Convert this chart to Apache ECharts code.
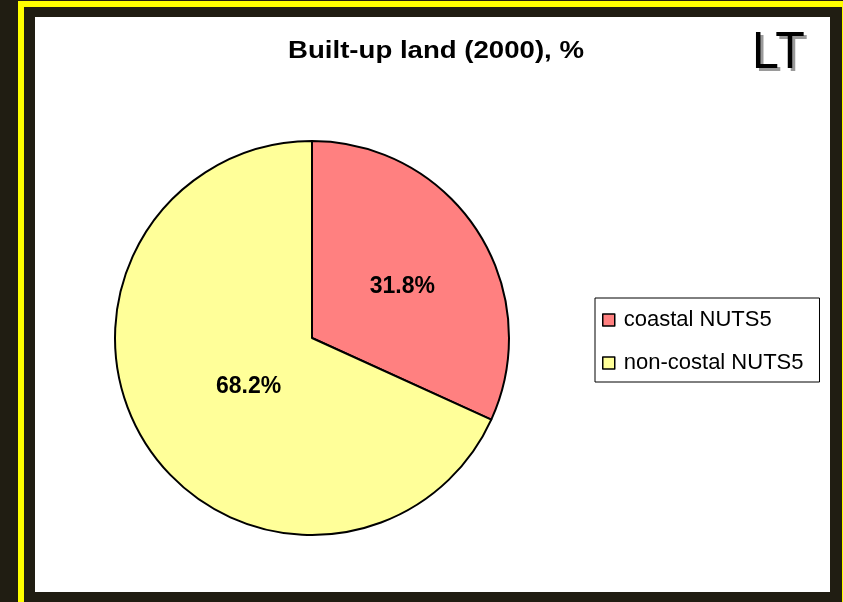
<!DOCTYPE html>
<html lang="en">
<head>
    <meta charset="UTF-8">
    <title>Built-up land (2000), % - LT</title>
    <script src="https://cdn.jsdelivr.net/npm/echarts@6/dist/echarts.min.js"></script>
    <style>
        html, body { margin: 0; padding: 0; background: #201d12; }
        #render-target { width: 843px; height: 602px; }
    </style>
</head>
<body>
    <div id="render-target"></div>
    <script>
        const categories = ["coastal NUTS5", "non-costal NUTS5"]
        const shares = [31.8, 68.2]
        const colors = ["#ff8080", "#ffff99"]
        const titleText = "Built-up land (2000), %"
        const countryCode = "LT"

        const chart = echarts.init(document.querySelector("#render-target"), null, { renderer: "canvas" })

        const codeFont = "52px 'Liberation Sans', Arial, sans-serif"

        const option = {
            animation: false,
            backgroundColor: "#201d12",
            graphic: [
                // yellow frame
                {
                    type: "rect", z: 0, silent: true,
                    shape: { x: 21, y: 4, width: 824, height: 601 },
                    style: { fill: null, stroke: "#ffff00", lineWidth: 6 }
                },
                // white plot area
                {
                    type: "rect", z: 1, silent: true,
                    shape: { x: 35, y: 17, width: 795, height: 575 },
                    style: { fill: "#ffffff" }
                },
                // title, drawn a bit wide like the source
                {
                    type: "text", z: 5, x: 436, y: 52, scaleX: 1.2,
                    style: {
                        text: titleText, x: 0, y: 0,
                        fill: "#000", font: "bold 23px 'Liberation Sans', Arial, sans-serif",
                        textAlign: "center", textVerticalAlign: "middle"
                    }
                },
                // country code with a grey drop shadow
                {
                    type: "text", z: 4, x: 755, y: 57, scaleX: 0.93,
                    style: {
                        text: countryCode, x: 0, y: 0, fill: "#9a9a9a", font: codeFont,
                        textAlign: "left", textVerticalAlign: "middle"
                    }
                },
                {
                    type: "text", z: 5, x: 752, y: 54, scaleX: 0.93,
                    style: {
                        text: countryCode, x: 0, y: 0, fill: "#000", font: codeFont,
                        textAlign: "left", textVerticalAlign: "middle"
                    }
                }
            ],
            legend: {
                orient: "vertical",
                left: 595,
                top: 298,
                z: 6,
                backgroundColor: "#ffffff",
                borderColor: "#000000",
                borderWidth: 1,
                padding: [11, 16, 8, 7],
                itemWidth: 12,
                itemHeight: 12,
                itemGap: 21,
                icon: "rect",
                itemStyle: { borderColor: "#000", borderWidth: 1.5 },
                textStyle: {
                    fontFamily: "'Liberation Sans', Arial, sans-serif",
                    fontSize: 22,
                    lineHeight: 21,
                    padding: [0, 0, 0, 4],
                    color: "#000"
                },
                data: categories
            },
            series: [{
                type: "pie",
                z: 3,
                center: [312, 338],
                radius: 197,
                startAngle: 90,
                clockwise: true,
                avoidLabelOverlap: false,
                itemStyle: { borderColor: "#000", borderWidth: 2 },
                label: {
                    show: true,
                    position: "inside",
                    formatter: p => p.value.toFixed(1) + "%",
                    fontFamily: "'Liberation Sans', Arial, sans-serif",
                    fontWeight: "bold",
                    fontSize: 23,
                    color: "#000"
                },
                labelLine: { show: false },
                emphasis: { disabled: true },
                labelLayout: p => p.dataIndex === 1 ? { dx: 22, dy: -6 } : { dx: 5, dy: 4 },
                data: categories.map((name, i) => ({
                    name,
                    value: shares[i],
                    itemStyle: { color: colors[i] }
                }))
            }]
        }

        chart.setOption(option)
    </script>
</body>
</html>
